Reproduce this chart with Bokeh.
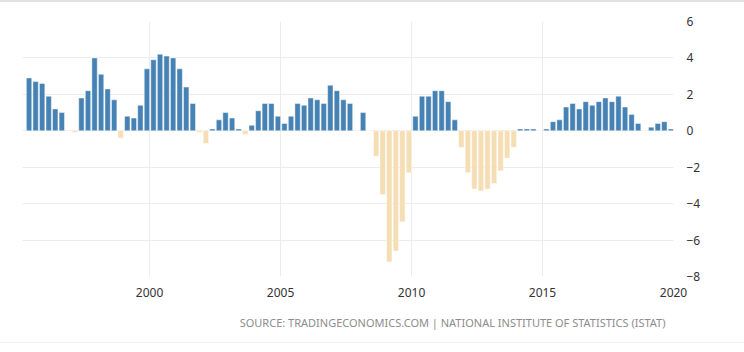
from bokeh.plotting import figure
from bokeh.models import ColumnDataSource, Title, FixedTicker, Div, Range1d
from bokeh.layouts import column
from bokeh.embed import file_html
from bokeh.resources import INLINE

# Italy GDP annual growth rate (%), quarterly, 1995 Q2 .. 2019 Q4
start_year = 1995
start_quarter = 2
values = [
    2.9, 2.7, 2.6, 1.9, 1.2, 1.0, 0.0, -0.1, 1.8, 2.2,
    4.0, 3.1, 2.3, 1.7, -0.4, 0.8, 0.7, 1.4, 3.4, 3.9,
    4.2, 4.1, 4.0, 3.4, 2.4, 1.5, -0.1, -0.7, 0.1, 0.6,
    1.0, 0.7, 0.1, -0.2, 0.3, 1.1, 1.5, 1.5, 0.8, 0.4,
    0.8, 1.5, 1.4, 1.8, 1.7, 1.5, 2.5, 2.2, 1.7, 1.5,
    0.0, 1.0, 0.0, -1.4, -3.5, -7.2, -6.6, -5.0, -2.3, 0.8,
    1.9, 1.9, 2.2, 2.2, 1.6, 0.6, -0.9, -2.3, -3.2, -3.3,
    -3.2, -2.9, -2.2, -1.5, -0.9, 0.1, 0.1, 0.1, 0.0, 0.1,
    0.5, 0.6, 1.3, 1.5, 1.2, 1.6, 1.4, 1.6, 1.8, 1.6,
    1.9, 1.3, 0.9, 0.4, 0.0, 0.2, 0.4, 0.5, 0.1,
]
x_ticks = [2000, 2005, 2010, 2015, 2020]
y_ticks = [-8, -6, -4, -2, 0, 2, 4, 6]
source_text = "SOURCE: TRADINGECONOMICS.COM | NATIONAL INSTITUTE OF STATISTICS (ISTAT)"

POS = "#4682b4"
NEG = "#f5deb3"

labels, xs, colors = [], [], []
for i, v in enumerate(values):
    qi = start_quarter - 1 + i
    y = start_year + qi // 4
    q = qi % 4 + 1
    labels.append(f"{y} Q{q}")
    xs.append(y + q * 0.25 - 0.1)
    colors.append(POS if v >= 0 else NEG)

src = ColumnDataSource(dict(x=xs, v=values, label=labels, color=colors))

p = figure(width=744, height=340,
           x_range=Range1d(1995.15, 2020.0), y_range=Range1d(-8, 6),
           output_backend="svg", toolbar_location=None,
           y_axis_location="right",
           min_border_left=22, min_border_right=71,
           min_border_top=19, min_border_bottom=65, margin=0)
p.outline_line_color = None
p.background_fill_color = "white"
p.border_fill_color = "white"

p.vbar(x="x", top="v", bottom=0, width=0.205, fill_color="color",
       line_color="white", line_alpha=0.45, line_width=1, source=src)

p.xaxis.ticker = FixedTicker(ticks=x_ticks)
p.yaxis.ticker = FixedTicker(ticks=y_ticks)
p.xgrid.ticker = FixedTicker(ticks=x_ticks)
p.ygrid.ticker = FixedTicker(ticks=y_ticks)
for g in (p.xgrid, p.ygrid):
    g.grid_line_color = "#ececec"
    g.grid_line_width = 1

for ax in (p.xaxis, p.yaxis):
    ax.axis_line_color = None
    ax.major_tick_line_color = None
    ax.minor_tick_line_color = None
    ax.major_label_text_font = "Noto Sans"
    ax.major_label_text_font_size = "12px"
    ax.major_label_text_color = "#333333"
p.xaxis.major_label_standoff = 5
p.yaxis.major_label_standoff = 7

t = Title(text=source_text, align="right", offset=8, standoff=26,
          text_font="Noto Sans", text_font_size="11px",
          text_font_style="normal", text_color="#8c8c8c")
p.add_layout(t, "below")

top_line = Div(width=744, height=2, margin=0,
               styles={"background-color": "#e2e2e2"})
bottom_line = Div(width=744, height=1, margin=0,
                  styles={"background-color": "#f0f0f0"})
layout = column(top_line, p, bottom_line, spacing=0, margin=0)

open("out.html", "w").write(file_html(layout, INLINE))
